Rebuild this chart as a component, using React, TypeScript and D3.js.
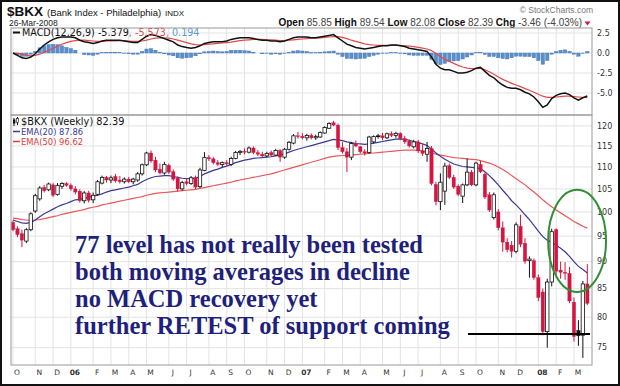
import React from 'react'
import * as d3 from 'd3'

// weekly bars, first bar = week of 3-Oct-2005
const firstWeek = new Date(2005, 9, 3)

const opens = [
  97.8, 96.5, 95.5, 94.0, 96.3, 100.2, 102.8, 105.3, 104.8, 105.9,
  103.8, 105.6, 106.2, 105.8, 105.0, 104.5, 102.4, 104.1, 102.6, 103.8,
  106.3, 107.6, 107.0, 107.8, 107.0, 106.6, 107.2, 106.6, 107.0, 108.4,
  110.5, 113.3, 111.6, 109.5, 108.6, 110.4, 108.9, 107.4, 105.0, 106.6,
  106.2, 107.6, 105.5, 109.2, 112.2, 111.9, 111.0, 110.6, 111.0, 110.6,
  112.0, 113.4, 113.7, 113.5, 114.5, 113.4, 113.0, 112.6, 113.4, 112.8,
  113.9, 112.3, 114.2, 115.7, 117.5, 117.4, 117.0, 117.6, 117.0, 117.2,
  118.2, 119.4, 120.8, 120.2, 114.6, 113.6, 112.3, 115.6, 114.8, 113.6,
  113.4, 116.0, 117.3, 117.5, 117.0, 118.0, 117.6, 118.1, 116.8, 116.2,
  114.8, 116.0, 113.8, 113.0, 114.4, 106.0, 102.2, 104.5, 110.3, 107.6,
  105.6, 103.4, 105.9, 108.8, 105.9, 110.6, 108.3, 103.7, 98.8, 100.0,
  96.7, 93.8, 93.2, 92.0, 97.0, 93.6, 90.2, 90.2, 87.0, 84.4,
  77.6, 86.2, 96.3, 88.4, 88.0, 87.8, 82.6, 77.8, 77.0, 85.85
]
const highs = [
  98.2, 97.0, 96.3, 96.6, 99.9, 103.9, 105.6, 105.9, 106.4, 106.3,
  106.3, 106.5, 106.5, 106.2, 105.6, 104.9, 104.5, 104.6, 104.2, 107.0,
  108.0, 107.9, 108.0, 108.4, 107.9, 107.6, 107.7, 107.5, 108.8, 110.8,
  113.6, 113.9, 112.4, 110.8, 111.2, 110.8, 109.4, 107.8, 106.8, 107.4,
  107.9, 108.0, 109.8, 113.5, 112.8, 112.3, 111.6, 111.3, 111.6, 112.4,
  113.8, 114.0, 114.4, 114.9, 114.9, 114.0, 113.6, 113.6, 113.9, 114.3,
  114.2, 114.5, 116.2, 117.9, 118.5, 118.2, 118.0, 118.1, 117.8, 118.6,
  119.9, 120.9, 121.3, 120.6, 116.0, 114.5, 116.0, 116.3, 115.0, 114.2,
  117.5, 117.6, 118.0, 118.2, 118.3, 118.6, 118.5, 118.4, 117.5, 116.6,
  116.5, 116.5, 115.4, 116.0, 115.0, 106.6, 108.5, 111.0, 110.8, 108.2,
  106.0, 106.2, 112.0, 109.3, 111.2, 111.4, 108.8, 104.3, 104.2, 100.6,
  98.0, 94.6, 94.0, 97.8, 99.4, 94.6, 91.0, 90.6, 87.6, 85.0,
  86.8, 96.5, 96.6, 90.0, 89.9, 89.0, 83.4, 79.5, 86.4, 89.54
]
const lows = [
  96.0, 94.8, 92.8, 93.6, 96.0, 99.8, 102.4, 104.2, 104.5, 103.2,
  103.5, 105.0, 105.5, 104.6, 103.8, 102.0, 101.8, 102.0, 101.9, 103.5,
  106.0, 106.4, 106.3, 106.4, 106.2, 106.2, 106.3, 106.0, 106.6, 108.0,
  110.2, 111.0, 108.8, 108.3, 108.2, 108.4, 106.8, 104.4, 104.6, 105.8,
  105.9, 105.0, 105.2, 109.0, 111.4, 110.6, 110.2, 110.0, 110.3, 110.2,
  111.8, 112.8, 113.0, 113.2, 113.0, 112.6, 112.2, 112.3, 112.4, 112.6,
  111.2, 111.9, 113.9, 115.4, 116.8, 116.6, 116.3, 116.6, 116.5, 117.0,
  118.0, 119.2, 119.9, 114.0, 113.2, 108.8, 111.6, 114.7, 113.2, 112.7,
  113.1, 115.6, 116.8, 116.4, 116.7, 117.2, 117.0, 116.4, 115.5, 114.6,
  114.4, 113.3, 112.6, 111.2, 105.8, 101.4, 100.4, 101.5, 107.2, 105.0,
  103.4, 101.9, 105.6, 105.6, 105.6, 108.6, 102.8, 100.0, 98.4, 96.2,
  91.9, 91.8, 90.8, 91.6, 92.8, 89.6, 87.0, 86.6, 82.8, 77.0,
  75.0, 85.4, 87.5, 86.8, 86.6, 82.4, 76.0, 75.3, 73.4, 82.08
]
const closes = [
  96.3, 95.3, 94.2, 96.3, 99.6, 103.5, 105.2, 104.6, 106.1, 103.6,
  105.8, 106.2, 105.8, 105.0, 104.3, 102.4, 104.1, 102.5, 103.6, 106.6,
  107.6, 107.0, 107.5, 106.8, 106.6, 107.2, 106.6, 107.2, 108.4, 110.5,
  113.3, 111.4, 109.3, 108.6, 110.6, 108.8, 107.2, 105.0, 106.4, 106.2,
  107.5, 105.4, 109.3, 112.2, 111.9, 111.0, 110.6, 111.0, 110.7, 112.0,
  113.4, 113.7, 113.5, 114.5, 113.4, 113.0, 112.6, 113.2, 112.8, 113.9,
  112.3, 114.2, 115.9, 117.5, 117.4, 117.0, 117.6, 117.0, 117.3, 118.3,
  119.6, 120.6, 120.2, 114.6, 113.6, 112.3, 115.6, 115.0, 113.6, 113.3,
  117.2, 117.3, 117.5, 117.0, 118.0, 117.6, 118.1, 116.8, 116.0, 115.0,
  116.0, 113.8, 113.2, 114.4, 106.2, 102.2, 106.5, 110.2, 107.6, 105.4,
  103.8, 105.9, 108.8, 105.9, 110.9, 108.9, 103.2, 100.4, 103.7, 96.7,
  93.8, 92.3, 92.0, 97.3, 93.4, 90.1, 90.5, 87.0, 83.4, 77.6,
  86.2, 95.9, 88.2, 88.0, 87.8, 82.8, 76.8, 76.9, 85.85, 82.39
]

const ema20 = [
  98.3, 98.0, 97.7, 97.6, 97.8, 98.3, 99.0, 99.6, 100.1, 100.6,
  101.1, 101.5, 101.8, 102.2, 102.6, 102.7, 102.9, 103.2, 103.4, 103.6,
  103.9, 104.3, 104.6, 104.8, 105.0, 105.2, 105.4, 105.7, 106.0, 106.6,
  107.1, 107.5, 107.8, 107.9, 108.0, 108.0, 107.8, 107.6, 107.4, 107.3,
  107.3, 107.4, 107.8, 108.4, 108.8, 109.2, 109.5, 109.9, 110.2, 110.6,
  111.0, 111.3, 111.6, 111.8, 112.0, 112.1, 112.2, 112.3, 112.4, 112.6,
  112.8, 113.1, 113.5, 113.9, 114.2, 114.5, 114.8, 115.1, 115.4, 115.7,
  116.0, 116.3, 116.6, 116.5, 116.3, 116.0, 115.8, 115.6, 115.5, 115.4,
  115.5, 115.7, 115.9, 116.1, 116.3, 116.5, 116.7, 116.7, 116.6, 116.4,
  116.1, 115.8, 115.5, 115.1, 114.3, 113.3, 112.5, 111.8, 111.2, 110.7,
  110.4, 110.1, 110.0, 109.9, 109.8, 109.6, 108.9, 108.0, 107.0, 105.9,
  104.7, 103.6, 102.4, 101.5, 100.5, 99.4, 98.4, 97.2, 96.0, 94.9,
  94.2, 93.8, 93.2, 92.6, 91.9, 91.0, 90.0, 89.1, 88.5, 87.86
]
const ema50 = [
  98.7, 98.6, 98.4, 98.3, 98.2, 98.3, 98.4, 98.6, 98.8, 99.0,
  99.2, 99.5, 99.7, 99.9, 100.1, 100.3, 100.5, 100.8, 101.0, 101.2,
  101.5, 101.7, 101.9, 102.1, 102.3, 102.5, 102.7, 102.9, 103.1, 103.3,
  103.6, 103.8, 104.0, 104.1, 104.2, 104.3, 104.4, 104.5, 104.6, 104.7,
  104.8, 104.9, 105.1, 105.3, 105.5, 105.7, 105.9, 106.1, 106.3, 106.5,
  106.8, 107.0, 107.2, 107.4, 107.6, 107.8, 108.0, 108.2, 108.4, 108.7,
  109.0, 109.3, 109.6, 109.9, 110.2, 110.5, 110.8, 111.1, 111.4, 111.7,
  112.0, 112.3, 112.5, 112.6, 112.7, 112.7, 112.8, 112.9, 113.0, 113.1,
  113.2, 113.3, 113.4, 113.5, 113.6, 113.7, 113.8, 113.9, 114.0, 114.0,
  114.0, 113.9, 113.8, 113.7, 113.4, 113.0, 112.8, 112.6, 112.4, 112.2,
  112.1, 112.0, 111.9, 111.8, 111.7, 111.5, 111.2, 110.9, 110.5, 110.0,
  109.4, 108.8, 108.0, 107.3, 106.6, 105.9, 105.1, 104.3, 103.5, 102.6,
  101.8, 101.1, 100.4, 99.8, 99.2, 98.6, 98.0, 97.5, 97.0, 96.62
]

const macdLine = [
  0.0, -0.3, -0.6, -0.7, -0.5, -0.1, 0.5, 1.0, 1.4, 1.7,
  1.9, 2.0, 2.0, 2.0, 1.9, 1.6, 1.4, 1.3, 1.2, 1.3,
  1.5, 1.6, 1.6, 1.6, 1.6, 1.5, 1.4, 1.3, 1.3, 1.7,
  2.1, 2.3, 2.2, 2.0, 1.8, 1.6, 1.4, 1.0, 0.8, 0.7,
  0.6, 0.7, 0.9, 1.2, 1.3, 1.4, 1.4, 1.4, 1.5, 1.7,
  1.8, 1.9, 1.9, 1.9, 1.8, 1.7, 1.6, 1.6, 1.5, 1.5,
  1.4, 1.5, 1.7, 1.9, 2.0, 2.0, 2.0, 1.9, 1.9, 2.0,
  2.1, 2.2, 2.3, 1.9, 1.5, 1.1, 0.9, 0.7, 0.6, 0.5,
  0.6, 0.7, 0.8, 0.9, 0.9, 1.0, 1.0, 0.9, 0.8, 0.6,
  0.5, 0.4, 0.3, 0.2, -0.5, -1.4, -1.9, -2.1, -2.1, -2.3,
  -2.5, -2.5, -2.4, -2.2, -1.9, -1.8, -2.3, -2.8, -3.1, -3.6,
  -4.0, -4.3, -4.4, -4.4, -4.6, -4.9, -5.1, -5.5, -6.1, -6.8,
  -6.5, -5.7, -5.3, -5.1, -5.0, -5.2, -5.6, -5.9, -5.6, -5.379
]
const signalLine = [
  0.0, -0.05, -0.15, -0.3, -0.35, -0.3, -0.15, 0.1, 0.35, 0.6,
  0.85, 1.1, 1.3, 1.45, 1.55, 1.6, 1.6, 1.55, 1.5, 1.45,
  1.45, 1.5, 1.5, 1.5, 1.55, 1.55, 1.5, 1.45, 1.45, 1.5,
  1.6, 1.75, 1.85, 1.9, 1.9, 1.85, 1.75, 1.6, 1.45, 1.3,
  1.15, 1.05, 1.0, 1.05, 1.1, 1.15, 1.2, 1.25, 1.3, 1.35,
  1.45, 1.55, 1.6, 1.65, 1.7, 1.7, 1.7, 1.65, 1.65, 1.6,
  1.55, 1.55, 1.6, 1.65, 1.7, 1.75, 1.8, 1.85, 1.85, 1.9,
  1.95, 2.0, 2.05, 2.05, 1.95, 1.8, 1.6, 1.45, 1.3, 1.15,
  1.05, 1.0, 0.95, 0.95, 0.95, 0.95, 0.95, 0.95, 0.9, 0.85,
  0.8, 0.7, 0.6, 0.5, 0.3, -0.05, -0.45, -0.8, -1.05, -1.3,
  -1.55, -1.75, -1.9, -1.95, -1.95, -1.9, -2.1, -2.35, -2.65, -3.0,
  -3.3, -3.55, -3.8, -4.0, -4.2, -4.45, -4.65, -4.9, -5.15, -5.4,
  -5.55, -5.55, -5.5, -5.45, -5.4, -5.4, -5.45, -5.5, -5.55, -5.573
]

const priceTicks = [120, 115, 110, 105, 100, 95, 90, 85, 80, 75]
const macdTicks = [2.5, 0, -2.5, -5]
const quoteLabels = ['Open', 'High', 'Low', 'Close', 'Chg']
const notes = [
  '77 level has not really been tested',
  'both moving averages in decline',
  'no MACD recovery yet',
  'further RETEST of support coming'
]
// hand-drawn marks, in chart units (week index, price)
const supportLevel = 77.2
const supportWeeks = [102.2, 129.6]
const ringWeeks = [120.2, 133.2]
const ringPrices = [84.4, 104.8]

const RED = '#d3153f'
const SANS = "'DejaVu Sans', Verdana, sans-serif"
const ARIAL = "'Liberation Sans', Arial, sans-serif"

export default function App() {
  const left = 11, right = 592
  const x = d3.scaleLinear().domain([-0.45, 130.05]).range([left, right])
  const y = d3.scaleLog().domain([72.3, 122.8]).range([365, 115])
  const ym = d3.scaleLinear().domain([-7.75, 3.125]).range([115, 28])

  const weeks = closes.map((_, i) => d3.timeMonday.offset(firstWeek, i))
  const months = d3.timeMonth.range(new Date(2005, 9, 1), new Date(2008, 3, 1))
  const monthTicks = months
    .map(m => ({ m, i: weeks.findIndex(d => d >= m) }))
    .filter(t => t.i >= 0)

  const priceLine = d3.line<number>().x((_, i) => x(i)).y(d => y(d))
  const macdPath = d3.line<number>().x((_, i) => x(i)).y(d => ym(d))
  const hist = macdLine.map((m, i) => m - signalLine[i])

  const last = closes.length - 1
  const chg = closes[last] - closes[last - 1]
  const quoteValues = [
    opens[last].toFixed(2), highs[last].toFixed(2), lows[last].toFixed(2),
    closes[last].toFixed(2), `${chg.toFixed(2)} (${(chg / closes[last - 1] * 100).toFixed(2)}%)`
  ]

  const bw = 3.4

  return (
    <svg width={620} height={386} style={{ position: 'absolute', left: 0, top: 0, background: '#fff' }}>
      <rect x={1} y={1} width={618} height={384} fill="#fff" stroke="#111" strokeWidth={2} />

      {/* header */}
      <text x={7} y={16} fontFamily={ARIAL} fill="#111">
        <tspan fontSize={13.5} fontWeight="bold">$BKX</tspan>
        <tspan fontSize={9.5} dx={4}>(Bank Index - Philadelphia)</tspan>
        <tspan fontSize={8} dx={4}>INDX</tspan>
      </text>
      <text x={9} y={26} fontFamily={ARIAL} fontSize={8.5} fill="#222">26-Mar-2008</text>
      <text x={593} y={13} textAnchor="end" fontFamily={ARIAL} fontSize={8.5} fill="#777">© StockCharts.com</text>
      <text x={582} y={26} textAnchor="end" fontFamily={ARIAL} fontSize={10} fill="#111">
        {quoteLabels.map((l, i) => (
          <React.Fragment key={l}>
            <tspan fontWeight="bold">{(i ? ' ' : '') + l + ' '}</tspan>
            <tspan fill="#444">{quoteValues[i]}</tspan>
          </React.Fragment>
        ))}
      </text>
      <path d="M584.5,21.5 L590.5,21.5 L587.5,25.5 Z" fill={RED} />

      {/* grid */}
      <g stroke="#e3e3e3" strokeWidth={1}>
        {monthTicks.map(t => (
          <line key={+t.m} x1={x(t.i)} x2={x(t.i)} y1={28} y2={365} />
        ))}
        {macdTicks.map(v => (
          <line key={'m' + v} x1={left} x2={right} y1={ym(v)} y2={ym(v)} />
        ))}
        {priceTicks.map(v => (
          <line key={'p' + v} x1={left} x2={right} y1={y(v)} y2={y(v)} />
        ))}
      </g>

      {/* MACD panel */}
      <g>
        {hist.map((h, i) => (
          <rect key={i} x={x(i) - 1.7} width={3.4}
            y={Math.min(ym(0), ym(h))} height={Math.abs(ym(h) - ym(0))}
            fill="#5a8fcc" stroke="#3e73b4" strokeWidth={0.4} />
        ))}
        <path d={macdPath(signalLine) || ''} fill="none" stroke="#e24a4a" strokeWidth={1.2} />
        <path d={macdPath(macdLine) || ''} fill="none" stroke="#111" strokeWidth={1.5} />
        <line x1={13} x2={20} y1={32.5} y2={32.5} stroke="#111" strokeWidth={2} />
        <text x={22} y={36} fontFamily={SANS} fontSize={9.6}>
          <tspan fill="#111">{`MACD(12,26,9) ${macdLine[last].toFixed(3)}`}</tspan>
          <tspan fill="#e24a4a">{`, ${signalLine[last].toFixed(3)}`}</tspan>
          <tspan fill="#5b9bd5">{`, ${hist[last].toFixed(3)}`}</tspan>
        </text>
      </g>

      {/* price panel */}
      <path d={priceLine(ema50) || ''} fill="none" stroke="#e8585a" strokeWidth={1.2} />
      <path d={priceLine(ema20) || ''} fill="none" stroke="#3a3a96" strokeWidth={1.2} />
      <g>
        {closes.map((c, i) => {
          const o = opens[i]
          const prev = i ? closes[i - 1] : o
          const col = c < prev ? RED : '#111'
          const filled = c < o
          const top = y(Math.max(o, c))
          const bot = y(Math.min(o, c))
          return (
            <g key={i}>
              <line x1={x(i)} x2={x(i)} y1={y(highs[i])} y2={y(lows[i])} stroke={col} strokeWidth={1} />
              <rect x={x(i) - bw / 2} y={top} width={bw} height={Math.max(bot - top, 0.8)}
                fill={filled ? col : '#fff'} stroke={col} strokeWidth={filled ? 0.3 : 0.8} />
            </g>
          )
        })}
      </g>

      {/* legends */}
      <g fontFamily={SANS}>
        <line x1={14} x2={14} y1={118} y2={126} stroke="#111" />
        <rect x={13} y={119.5} width={2.4} height={4} fill="#111" />
        <line x1={17.5} x2={17.5} y1={117} y2={125} stroke="#111" />
        <rect x={16.3} y={118.5} width={2.4} height={4} fill="#fff" stroke="#111" strokeWidth={0.6} />
        <text x={21} y={125} fontSize={9.8} fill="#111">{`$BKX (Weekly) ${closes[last].toFixed(2)}`}</text>
        <line x1={13} x2={20} y1={131.5} y2={131.5} stroke="#3a3a96" strokeWidth={1.5} />
        <text x={21} y={134.5} fontSize={8.4} fill="#3a3a96">{`EMA(20) ${ema20[last].toFixed(2)}`}</text>
        <line x1={13} x2={20} y1={141.5} y2={141.5} stroke="#e03a3a" strokeWidth={1.5} />
        <text x={21} y={144.5} fontSize={8.4} fill="#e03a3a">{`EMA(50) ${ema50[last].toFixed(2)}`}</text>
      </g>

      {/* panel frames */}
      <rect x={left} y={28} width={right - left} height={87} fill="none" stroke="#9a9a9a" />
      <rect x={left} y={115} width={right - left} height={250} fill="none" stroke="#9a9a9a" />

      {/* right axes */}
      <g fontFamily={SANS} fontSize={8} fill="#333">
        {macdTicks.map(v => (
          <text key={'mt' + v} x={597} y={ym(v)} dy="0.35em">{v.toFixed(1)}</text>
        ))}
        {priceTicks.map(v => (
          <text key={'pt' + v} x={597} y={y(v)} dy="0.35em">{v}</text>
        ))}
      </g>

      {/* bottom axis */}
      <g fontFamily={SANS} fontSize={7.5} fill="#333" textAnchor="middle">
        {monthTicks.map(t => {
          const jan = t.m.getMonth() === 0
          return (
            <text key={+t.m} x={x(t.i) + 4} y={375} fontWeight={jan ? 'bold' : 'normal'}>
              {jan ? d3.timeFormat('%y')(t.m) : d3.timeFormat('%b')(t.m).charAt(0)}
            </text>
          )
        })}
      </g>

      {/* annotations */}
      <line x1={x(supportWeeks[0])} x2={x(supportWeeks[1])} y1={y(supportLevel)} y2={y(supportLevel)}
        stroke="#000" strokeWidth={2} />
      <ellipse
        cx={(x(ringWeeks[0]) + x(ringWeeks[1])) / 2}
        cy={(y(ringPrices[0]) + y(ringPrices[1])) / 2}
        rx={(x(ringWeeks[1]) - x(ringWeeks[0])) / 2}
        ry={(y(ringPrices[0]) - y(ringPrices[1])) / 2}
        fill="none" stroke="#2f8f34" strokeWidth={2} />
      <g fontFamily="'Liberation Serif', 'Times New Roman', serif" fontWeight="bold" fontSize={24.5} fill="#1f1f7c">
        {notes.map((n, i) => (
          <text key={n} x={75} y={253 + i * 27}>{n}</text>
        ))}
      </g>
    </svg>
  )
}
